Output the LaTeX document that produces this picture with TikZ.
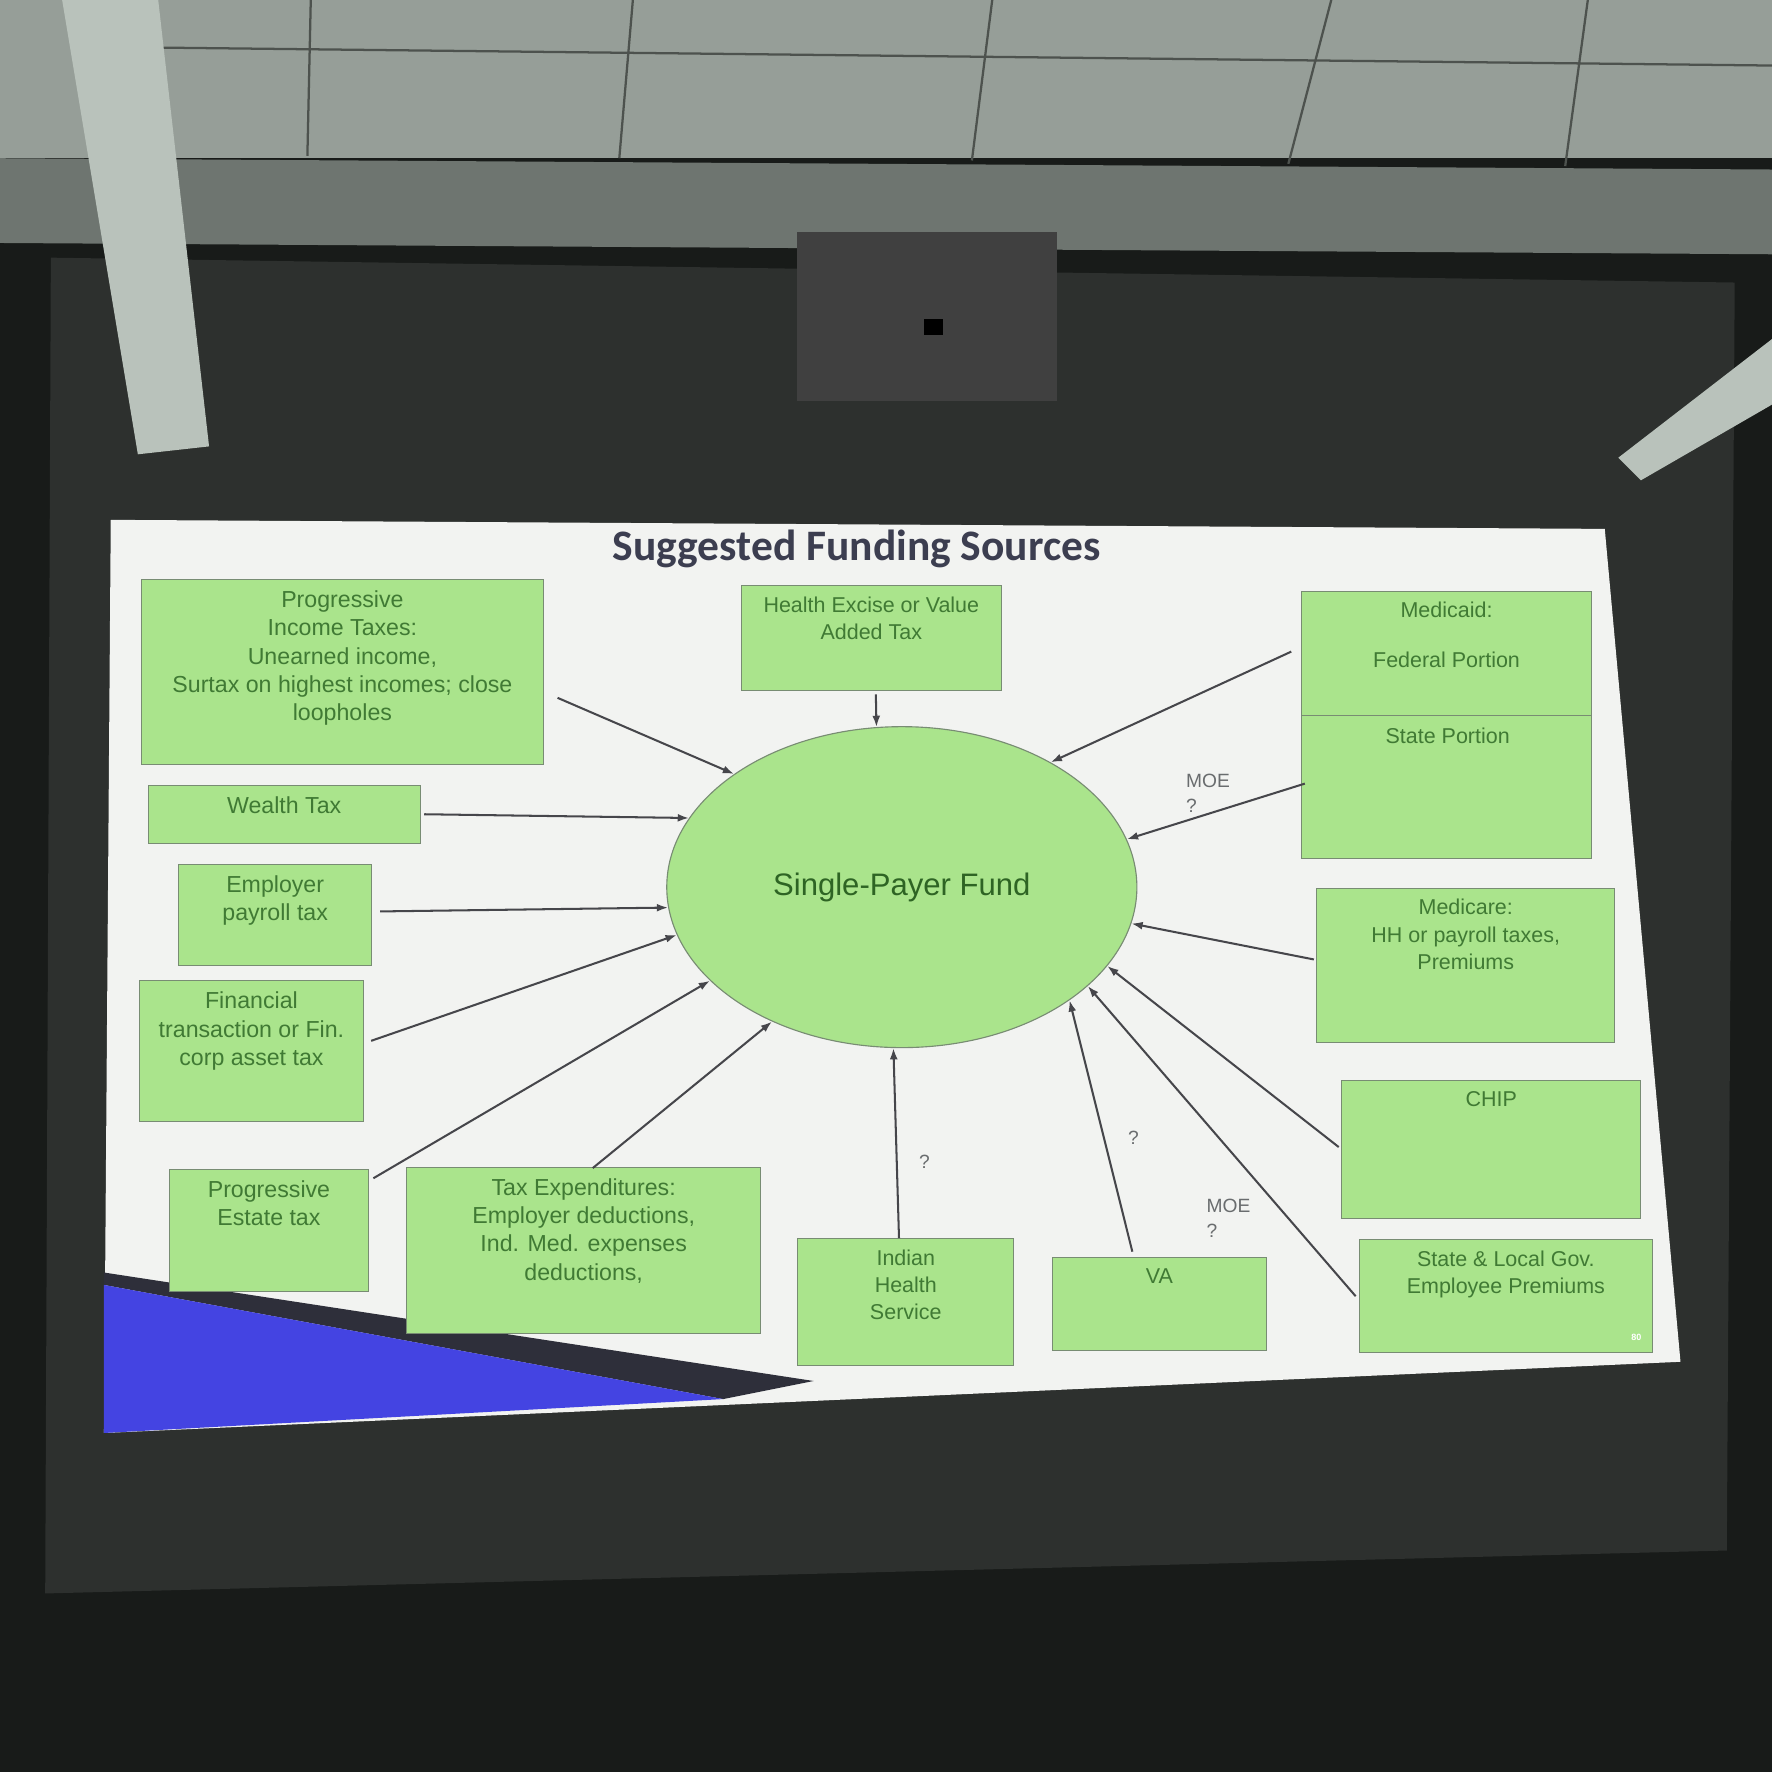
\documentclass[tikz,border=0pt]{standalone}
\usepackage{fontspec}
\setmainfont{Liberation Sans}
\newfontfamily\titlefont{Carlito}
\usetikzlibrary{shapes.geometric,arrows.meta}
\definecolor{boxgreen}{RGB}{170,228,140}
\definecolor{boxedge}{RGB}{120,140,115}
\definecolor{textgreen}{RGB}{64,122,52}
\definecolor{fundtext}{RGB}{46,100,36}
\definecolor{linegrey}{RGB}{70,70,75}
\definecolor{notegrey}{RGB}{105,108,110}
\definecolor{titlecol}{RGB}{60,62,80}
\definecolor{slidebg}{RGB}{242,243,241}
\definecolor{ceiling}{RGB}{150,158,152}
\definecolor{beam}{RGB}{110,117,112}
\definecolor{screen}{RGB}{45,48,46}
\definecolor{room}{RGB}{24,27,25}
\definecolor{lamp}{RGB}{185,194,187}
\definecolor{deckblue}{RGB}{68,68,226}
\definecolor{deckdark}{RGB}{46,47,58}

\begin{document}
\begin{tikzpicture}[x=1pt,y=-1pt,
    srcbox/.style={draw=boxedge, fill=boxgreen, inner sep=0pt, line width=0.8pt},
    boxtext/.style={text=textgreen, align=center, inner sep=3pt, font=\fontsize{19}{24}\selectfont},
    toptext/.style={boxtext, anchor=north, yshift=-7pt},
    bigtext/.style={toptext, font=\fontsize{20.5}{25}\selectfont},
    feed/.style={-{Latex[length=10pt,width=7pt]}, draw=linegrey, line width=1.8pt},
    note/.style={text=notegrey, align=left, inner sep=0pt, font=\fontsize{17}{22}\selectfont}]
    \useasboundingbox (0,0) rectangle (1568,1568);
    \fill[room] (0,0) rectangle (1568,1568);
    \fill[ceiling] (0,0) rectangle (1568,140);
    \fill[beam] (0,140) -- (1568,150) -- (1568,225) -- (0,215) -- cycle;
    \draw[beam!70!black, line width=2pt]
        (130,42) -- (1568,58)
        (275,0) -- (272,138) (560,0) -- (548,140) (878,0) -- (860,142)
        (1178,0) -- (1140,145) (1405,0) -- (1385,147);
    \fill[screen] (45,228) -- (1535,250) -- (1528,1372) -- (40,1410) -- cycle;
    \fill[lamp] (55,0) -- (140,0) -- (185,395) -- (122,402) -- cycle;
    \fill[lamp] (1568,300) -- (1568,358) -- (1452,425) -- (1432,405) -- cycle;
    \fill[black!75] (705,205) rectangle (935,355);
    \fill[black] (818,282) rectangle (834,296);

    \fill[slidebg] (98,460) -- (1420,468) -- (1487,1205) -- (92,1268) -- cycle;
    \fill[deckdark] (92,1126) -- (720,1222) -- (640,1238) -- (92,1137) -- cycle;
    \fill[deckblue] (92,1137) -- (640,1238) -- (92,1268) -- cycle;

    \node[font=\titlefont\bfseries\fontsize{38.5}{44}\selectfont, text=titlecol] (title) at (758,486) {Suggested Funding Sources};

    \node[ellipse, draw=boxedge, fill=boxgreen, line width=1pt, minimum width=416pt, minimum height=284pt, inner sep=0pt,
        text=fundtext, font=\fontsize{27.5}{32}\selectfont] (fund) at (798,785) {Single-Payer Fund};

    \node[srcbox, minimum width=356pt, minimum height=163pt,
        label={[bigtext]north:{Progressive\\Income Taxes:\\Unearned income,\\Surtax on highest incomes; close\\loopholes}}] (income) at (303,594.5) {};
    \node[srcbox, minimum width=230pt, minimum height=93pt,
        label={[toptext]north:{Health Excise or Value\\Added Tax}}] (excise) at (771,564.5) {};
    \node[srcbox, minimum width=256pt, minimum height=237pt,
        label={[toptext]north:{Medicaid:\\[20pt]Federal Portion}}] (medicaid) at (1280,641.5) {};
    \draw[boxedge, line width=0.8pt] ([yshift=8.5pt]medicaid.west) -- ([yshift=8.5pt]medicaid.east);
    \node[boxtext] (medstate) at (1281,651) {State Portion};
    \node[srcbox, minimum width=241pt, minimum height=51pt,
        label={[bigtext]north:{Wealth Tax}}] (wealth) at (251.5,720.5) {};
    \node[srcbox, minimum width=171pt, minimum height=89pt,
        label={[bigtext]north:{Employer\\payroll tax}}] (payroll) at (243.5,809.5) {};
    \node[srcbox, minimum width=199pt, minimum height=124pt,
        label={[bigtext]north:{Financial\\transaction or Fin.\\corp asset tax}}] (financial) at (222.5,930) {};
    \node[srcbox, minimum width=264pt, minimum height=136pt,
        label={[toptext]north:{Medicare:\\HH or payroll taxes,\\Premiums}}] (medicare) at (1297,854) {};
    \node[srcbox, minimum width=265pt, minimum height=122pt,
        label={[toptext]north:{CHIP}}] (chip) at (1319.5,1017) {};
    \node[srcbox, minimum width=176pt, minimum height=108pt,
        label={[bigtext]north:{Progressive\\Estate tax}}] (estate) at (238,1089) {};
    \node[srcbox, minimum width=313pt, minimum height=147pt,
        label={[bigtext]north:{Tax Expenditures:\\Employer deductions,\\Ind. Med. expenses\\deductions,}}] (taxexp) at (516.5,1106.5) {};
    \node[srcbox, minimum width=191pt, minimum height=112pt,
        label={[toptext]north:{Indian\\Health\\Service}}] (indian) at (801.5,1152) {};
    \node[srcbox, minimum width=190pt, minimum height=82pt,
        label={[toptext]north:{VA}}] (va) at (1026,1154) {};
    \node[srcbox, minimum width=259pt, minimum height=100pt,
        label={[toptext]north:{State \& Local Gov.\\Employee Premiums}}] (statelocal) at (1332.5,1147) {};
    \node[text=white, font=\bfseries\fontsize{8}{9}\selectfont] (pagenum) at (1448,1183) {80};

    \node[note] (moestate) at (1069,702) {MOE\\?};
    \node[note] (moelocal) at (1087,1078) {MOE\\?};
    \node[note] (qindian) at (818,1028) {?};
    \node[note] (qva) at (1003,1007) {?};

    \draw[feed] ([shift={(12,23)}]income.east) -- (fund.146);
    \draw[feed] ([shift={(4,3)}]excise.south) -- (fund.99);
    \draw[feed] ([shift={(-9,54)}]medicaid.north west) -- (fund.40);
    \draw[feed] ([shift={(3,-67)}]medicaid.south west) -- (fund.12);
    \draw[feed] ([shift={(3,0)}]wealth.east) -- (fund.162);
    \draw[feed] ([shift={(7,-3)}]payroll.east) -- (fund.185);
    \draw[feed] ([shift={(6,-9)}]financial.east) -- (fund.192);
    \draw[feed] ([shift={(-2,-5)}]medicare.west) -- (fund.351);
    \draw[feed] ([shift={(4,8)}]estate.north east) -- (fund.206);
    \draw[feed] ([shift={(8,1)}]taxexp.north) -- (fund.226);
    \draw[feed] ([shift={(-6,0)}]indian.north) -- (fund.267);
    \draw[feed] ([shift={(-24,-5)}]va.north) -- (fund.326);
    \draw[feed] ([shift={(-2,-2)}]chip.west) -- (fund.339);
    \draw[feed] ([shift={(-3,0)}]statelocal.west) -- (fund.332);
\end{tikzpicture}
\end{document}
